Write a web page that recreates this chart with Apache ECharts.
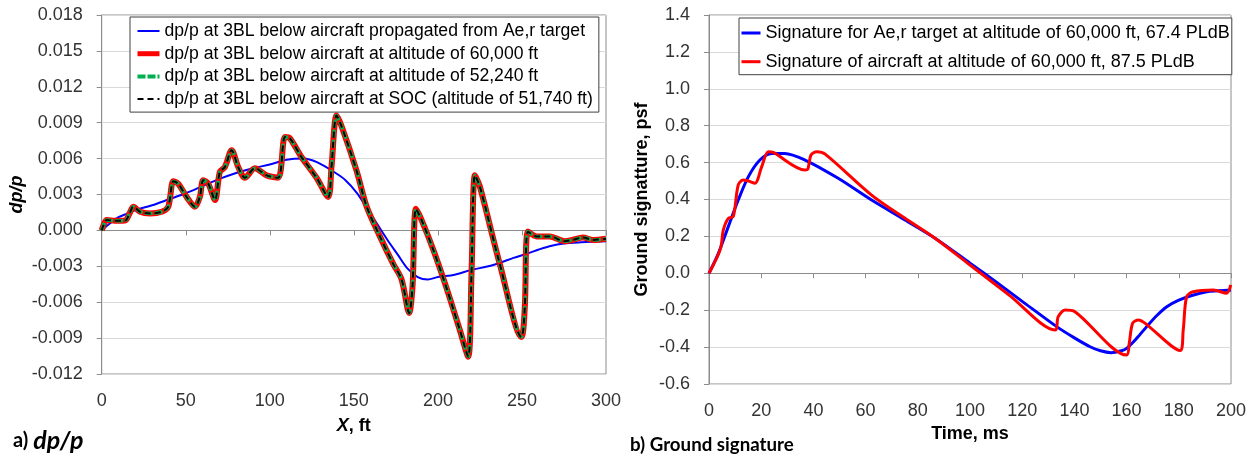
<!DOCTYPE html>
<html>
<head>
<meta charset="utf-8">
<script src="https://cdn.jsdelivr.net/npm/echarts@6/dist/echarts.min.js"></script>
<style>
html,body{margin:0;padding:0;background:#fff;}
#chart{width:1256px;height:458px;}
</style>
</head>
<body>
<div id="chart"></div>
<script>
// ---- Panel a) dp/p ----
const dpX = [0, 1, 3, 7.9, 13.9, 16.5, 18.8, 22.8, 28.7, 35.7, 39.6, 42.6, 45.5, 50.5, 55.5, 58.4, 60.4, 63.4, 67.4, 70.3, 73.3, 77.3, 81.2, 85.2, 91.1, 98.1, 105, 109, 111.9, 118.5, 127.8, 134.7, 136.7, 139.7, 142.7, 151.6, 157.6, 165.5, 173.4, 178.4, 182.9, 184.9, 186.9, 190.2, 197.2, 205.1, 213, 218, 220, 222, 224.9, 236.8, 249.7, 251.7, 253.6, 258.6, 266.5, 275.4, 280, 286.3, 292.3, 300];
const dpAircraft60k = [0, 0.0004, 0.00087, 0.0008, 0.00082, 0.0014, 0.00198, 0.00156, 0.00142, 0.00156, 0.00198, 0.0041, 0.0039, 0.0028, 0.00198, 0.0028, 0.0042, 0.0039, 0.00254, 0.0049, 0.0053, 0.0067, 0.0053, 0.0044, 0.0052, 0.0046, 0.0044, 0.0078, 0.0077, 0.0062, 0.0044, 0.0028, 0.0053, 0.0096, 0.0087, 0.0050, 0.0020, -0.0005, -0.0028, -0.0041, -0.0069, -0.0047, 0.0018, 0.0009, -0.0016, -0.0048, -0.0083, -0.01055, -0.0036, 0.0046, 0.0037, -0.0028, -0.0089, -0.0064, -0.0001, -0.0005, -0.0005, -0.0009, -0.0008, -0.0006, -0.0008, -0.0007];
// the 52,240 ft and SOC signatures coincide with the 60,000 ft one in the picture
const dpAircraft52k = dpAircraft60k;
const dpAircraftSOC = dpAircraft60k;
const targetX = [0, 5, 10, 15, 20, 30, 40, 50, 60, 70, 80, 90, 100, 110, 120, 128, 138, 145, 152, 158, 164, 170, 176, 182, 188, 194, 200, 210, 220, 230, 237, 245, 254, 260, 267, 275, 285, 300];
const dpTarget = [0, 0.0006, 0.0011, 0.0014, 0.0017, 0.0021, 0.0026, 0.0031, 0.0037, 0.0043, 0.0048, 0.0052, 0.0055, 0.0059, 0.0060, 0.0057, 0.0049, 0.0042, 0.0031, 0.0018, 0.0005, -0.0008, -0.0020, -0.0032, -0.0039, -0.0041, -0.0039, -0.0037, -0.0033, -0.0030, -0.0027, -0.0023, -0.0019, -0.0016, -0.0013, -0.0011, -0.0010, -0.0009];

// ---- Panel b) Ground signature ----
const sigTargetT = [0, 3.6, 7.4, 11.2, 15.1, 19.5, 24, 29, 36.8, 49.5, 62.3, 75.1, 86.6, 100, 110, 120, 133.2, 140, 146, 150, 154, 158, 160, 164, 167.7, 171.5, 175.4, 180, 185, 190.7, 195, 200];
const sigTarget = [0, 0.108, 0.253, 0.397, 0.524, 0.614, 0.650, 0.650, 0.614, 0.515, 0.397, 0.289, 0.190, 0.055, -0.047, -0.152, -0.289, -0.35, -0.398, -0.42, -0.43, -0.42, -0.407, -0.35, -0.289, -0.23, -0.181, -0.145, -0.12, -0.1, -0.095, -0.09];
const sigAircraftT = [0, 3.2, 4.6, 5.5, 7.4, 9.3, 11.2, 13.1, 15.1, 17.6, 20.2, 22.7, 24.6, 36.8, 37.8, 39.1, 41.3, 44.5, 62.3, 75.1, 86.6, 100, 115, 132.6, 133.8, 136.4, 140.2, 160, 161, 162.3, 164.5, 167, 180.5, 181.7, 183, 185.5, 193.2, 198.3, 199.9];
const sigAircraft = [0, 0.09, 0.144, 0.235, 0.298, 0.307, 0.479, 0.506, 0.50, 0.488, 0.578, 0.659, 0.655, 0.560, 0.563, 0.641, 0.659, 0.646, 0.424, 0.298, 0.190, 0.045, -0.118, -0.307, -0.235, -0.199, -0.208, -0.443, -0.38, -0.271, -0.253, -0.27, -0.419, -0.307, -0.127, -0.1, -0.09, -0.108, -0.063];

const namesA = [
  'dp/p at 3BL below aircraft propagated from Ae,r target',
  'dp/p at 3BL below aircraft at altitude of 60,000 ft',
  'dp/p at 3BL below aircraft at altitude of 52,240 ft',
  'dp/p at 3BL below aircraft at SOC (altitude of 51,740 ft)'
];
const namesB = [
  'Signature for Ae,r target at altitude of 60,000 ft, 67.4 PLdB',
  'Signature of aircraft at altitude of 60,000 ft, 87.5 PLdB'
];
const ticksA_X = [0, 300, 50];
const ticksA_Y = [-0.012, 0.018, 0.003];
const ticksB_X = [0, 200, 20];
const ticksB_Y = [-0.6, 1.4, 0.2];

const zip = (xs, ys) => xs.map((x, i) => [x, ys[i]]);
const FONT = "'Liberation Sans', Arial, sans-serif";
const tickColor = '#333';
const axisGray = '#8c8c8c';

function xAxis(gridIndex, t, name, gap, rich) {
  return {
    type: 'value', gridIndex, min: t[0], max: t[1], interval: t[2],
    axisLine: { show: true, lineStyle: { color: axisGray } },
    axisTick: { show: true, length: 5, lineStyle: { color: axisGray } },
    splitLine: { show: false },
    axisLabel: { color: tickColor, fontFamily: FONT, fontSize: 18, margin: 18 },
    name, nameLocation: 'middle', nameGap: gap,
    nameTextStyle: { rich }
  };
}
function yAxis(gridIndex, t, dec, name, gap, rich) {
  return {
    type: 'value', gridIndex, min: t[0], max: t[1], interval: t[2],
    axisLine: { show: true, lineStyle: { color: axisGray } },
    axisTick: { show: true, length: 5, lineStyle: { color: axisGray } },
    splitLine: { show: true, lineStyle: { color: '#d9d9d9', width: 1 } },
    axisLabel: { color: tickColor, fontFamily: FONT, fontSize: 18, margin: 19,
      formatter: v => v.toFixed(dec) },
    name, nameLocation: 'middle', nameGap: gap,
    nameTextStyle: { rich }
  };
}

const legendTextA = { fontFamily: FONT, fontSize: 17.6, color: '#000', lineHeight: 20 };
const legendTextB = { fontFamily: FONT, fontSize: 18, color: '#000', lineHeight: 20 };

const chart = echarts.init(document.getElementById('chart'), null, { renderer: 'canvas' });
chart.setOption({
  animation: false,
  backgroundColor: '#fff',
  grid: [
    { left: 101.7, top: 15, width: 504.3, height: 359, show: true, borderColor: axisGray, borderWidth: 1, backgroundColor: '#fff' },
    { left: 709, top: 15, width: 522, height: 369, show: true, borderColor: axisGray, borderWidth: 1, backgroundColor: '#fff' }
  ],
  xAxis: [
    xAxis(0, ticksA_X, '{i|X}{n|, ft}', 43, {
      i: { fontFamily: FONT, fontSize: 18, fontWeight: 'bold', fontStyle: 'italic', color: '#000' },
      n: { fontFamily: FONT, fontSize: 18, fontWeight: 'bold', color: '#000' } }),
    xAxis(1, ticksB_X, '{n|Time, ms}', 38, {
      n: { fontFamily: FONT, fontSize: 18, fontWeight: 'bold', color: '#000' } })
  ],
  yAxis: [
    yAxis(0, ticksA_Y, 3, '{i|dp/p}', 76, {
      i: { fontFamily: FONT, fontSize: 18, fontWeight: 'bold', fontStyle: 'italic', color: '#000' } }),
    yAxis(1, ticksB_Y, 1, '{n|Ground signatture, psf}', 58, {
      n: { fontFamily: FONT, fontSize: 18, fontWeight: 'bold', color: '#000' } })
  ],
  legend: [
    {
      orient: 'vertical', left: 130, top: 17,
      padding: [4, 6, 3, 5], itemGap: 2.7, itemWidth: 22, itemHeight: 14,
      backgroundColor: '#fff', borderColor: '#404040', borderWidth: 1,
      itemStyle: { opacity: 0 },
      textStyle: legendTextA,
      data: [
        { name: namesA[0], lineStyle: { width: 2 } },
        { name: namesA[1], lineStyle: { width: 5 } },
        { name: namesA[2], lineStyle: { width: 4 } },
        { name: namesA[3], lineStyle: { width: 2 } }
      ]
    },
    {
      orient: 'vertical', left: 739, top: 18,
      padding: [5, 2, 3, 1], itemGap: 8.7, itemWidth: 19, itemHeight: 14,
      backgroundColor: '#fff', borderColor: '#404040', borderWidth: 1,
      itemStyle: { opacity: 0 },
      textStyle: legendTextB,
      data: [
        { name: namesB[0], lineStyle: { width: 3 } },
        { name: namesB[1], lineStyle: { width: 3 } }
      ]
    }
  ],
  graphic: [
    { type: 'text', left: 13, top: 428, style: {
      text: '{a|a) }{b|dp/p}',
      rich: {
        a: { fontFamily: 'Lato, sans-serif', fontSize: 20, fontWeight: 'bold', fill: '#000' },
        b: { fontFamily: 'Lato, sans-serif', fontSize: 25, fontWeight: 'bold', fontStyle: 'italic', fill: '#000' }
      } } },
    { type: 'text', left: 630, top: 435, style: {
      text: 'b) Ground signature',
      fontFamily: 'Lato, sans-serif', fontSize: 18.7, fontWeight: 'bold', fill: '#000' } }
  ],
  series: [
    { name: namesA[0], type: 'line', xAxisIndex: 0, yAxisIndex: 0, data: zip(targetX, dpTarget),
      symbol: 'none', smooth: 0.3, lineStyle: { color: '#0000ff', width: 2 }, itemStyle: { color: '#0000ff' }, z: 2 },
    { name: namesA[1], type: 'line', xAxisIndex: 0, yAxisIndex: 0, data: zip(dpX, dpAircraft60k),
      symbol: 'none', smooth: 0.3, lineStyle: { color: '#ff0000', width: 6 }, itemStyle: { color: '#ff0000' }, z: 3 },
    { name: namesA[2], type: 'line', xAxisIndex: 0, yAxisIndex: 0, data: zip(dpX, dpAircraft52k),
      symbol: 'none', smooth: 0.3, lineStyle: { color: '#00b050', width: 3.5, type: [8, 2] }, itemStyle: { color: '#00b050' }, z: 4 },
    { name: namesA[3], type: 'line', xAxisIndex: 0, yAxisIndex: 0, data: zip(dpX, dpAircraftSOC),
      symbol: 'none', smooth: 0.3, lineStyle: { color: '#000000', width: 2, type: [6, 4] }, itemStyle: { color: '#000000' }, z: 5 },
    { name: namesB[0], type: 'line', xAxisIndex: 1, yAxisIndex: 1, data: zip(sigTargetT, sigTarget),
      symbol: 'none', smooth: 0.3, lineStyle: { color: '#0000ff', width: 3 }, itemStyle: { color: '#0000ff' }, z: 2 },
    { name: namesB[1], type: 'line', xAxisIndex: 1, yAxisIndex: 1, data: zip(sigAircraftT, sigAircraft),
      symbol: 'none', smooth: 0.3, lineStyle: { color: '#ff0000', width: 3 }, itemStyle: { color: '#ff0000' }, z: 3 }
  ]
});
</script>
</body>
</html>
